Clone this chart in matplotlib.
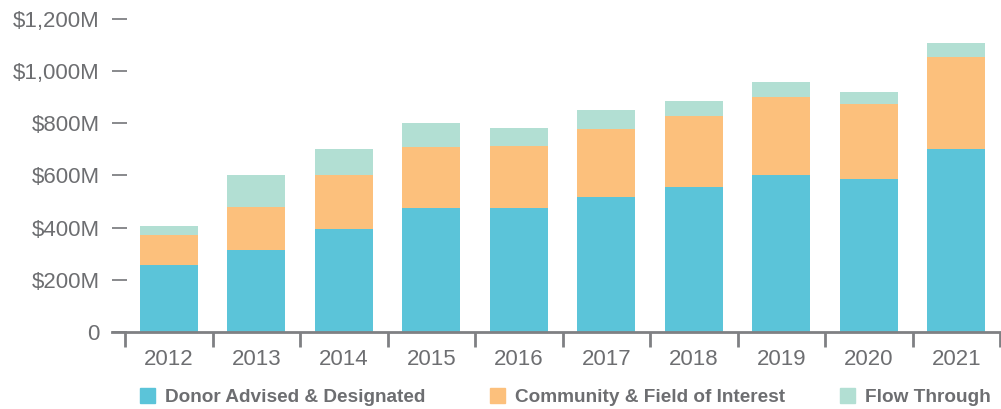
import numpy as np
import matplotlib.pyplot as plt
from matplotlib.patches import Patch
from matplotlib.ticker import FuncFormatter, FixedLocator

plt.rcParams['font.family'] = ['Liberation Sans', 'DejaVu Sans']

years = ["2012", "2013", "2014", "2015", "2016", "2017", "2018", "2019", "2020", "2021"]
donor_advised = [258, 315, 396, 477, 477, 516, 555, 603, 587, 702]
community = [112, 164, 207, 233, 236, 262, 275, 298, 289, 352]
flow_through = [37, 124, 99, 92, 71, 72, 56, 58, 45, 54]

c_blue = "#5bc4d9"
c_orange = "#fcc07c"
c_green = "#b2dfd3"
txt = "#6d6e71"
axc = "#7f8083"

fig = plt.figure(figsize=(10.01, 4.09), dpi=100)
ax = fig.add_axes([112 / 1001, 77 / 409, 889 / 1001, 313 / 409])

x = np.arange(len(years))
w = 0.66
d = np.array(donor_advised)
c = np.array(community)
f = np.array(flow_through)
ax.bar(x, d, w, color=c_blue)
ax.bar(x, c, w, bottom=d, color=c_orange)
ax.bar(x, f, w, bottom=d + c, color=c_green)

ax.set_xlim(-0.649, 9.51)
ax.set_ylim(0, 1200)

for s in ["top", "right", "left"]:
    ax.spines[s].set_visible(False)
ax.spines["bottom"].set_color(axc)
ax.spines["bottom"].set_linewidth(2)

ax.set_yticks(np.arange(0, 1201, 200))
ax.yaxis.set_major_formatter(FuncFormatter(lambda v, p: "0" if v == 0 else f"${v:,.0f}M"))
ax.tick_params(axis="y", direction="in", length=11, width=1.3, color=axc,
               labelsize=16, labelcolor=txt, pad=9)

ax.set_xticks(x)
ax.set_xticklabels(years)
ax.xaxis.set_minor_locator(FixedLocator(np.arange(-0.5, 10, 1)))
ax.tick_params(axis="x", which="major", length=0, labelsize=16, labelcolor=txt, pad=12)
ax.tick_params(axis="x", which="minor", direction="out", length=11, width=2, color=axc)

# legend items placed one by one
items = [(c_blue, "Donor Advised & Designated", 140),
         (c_orange, "Community & Field of Interest", 490),
         (c_green, "Flow Through", 840)]
for col, lab, xp in items:
    leg = fig.legend(handles=[Patch(color=col, label=lab)], loc="center left",
                     bbox_to_anchor=(xp / 1001, 12 / 409), frameon=False,
                     borderpad=0, borderaxespad=0,
                     handlelength=0.8, handleheight=0.8, handletextpad=0.52,
                     prop={"size": 13.7, "weight": "bold"})
    for t in leg.get_texts():
        t.set_color(txt)

fig.savefig("out.png", dpi=100)
